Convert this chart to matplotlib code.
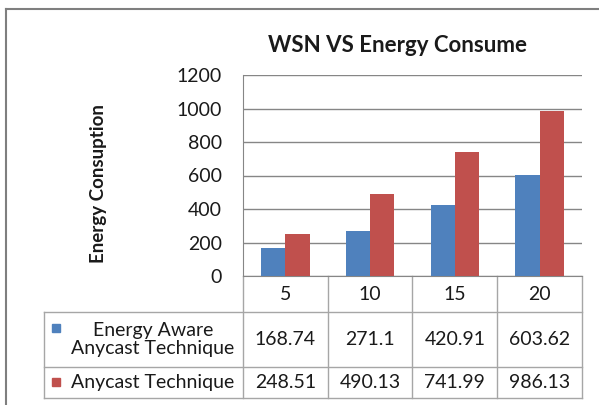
import numpy as np
import matplotlib.pyplot as plt
from matplotlib.transforms import blended_transform_factory

# data
categories = ["5", "10", "15", "20"]
series_names = ["Energy Aware\nAnycast Technique", "Anycast Technique"]
energy_aware = [168.74, 271.1, 420.91, 603.62]
anycast = [248.51, 490.13, 741.99, 986.13]
value_labels = [["168.74", "271.1", "420.91", "603.62"],
                ["248.51", "490.13", "741.99", "986.13"]]
colors = ["#4F81BD", "#C0504D"]

W, H = 599, 405
plt.rcParams['font.family'] = ['Lato', 'DejaVu Sans']
txt = "#1a1a1a"
fs = 14

fig = plt.figure(figsize=(W / 100, H / 100), dpi=100)

def fy(py):
    # pixel row (from top) -> figure fraction
    return (H - py) / H

def fx(px):
    return px / W

ax = fig.add_axes([fx(243), fy(276), fx(582) - fx(243), fy(75) - fy(276)])

x = np.arange(len(categories))
bw = 0.286
ax.bar(x - bw / 2, energy_aware, bw, color=colors[0], zorder=3)
ax.bar(x + bw / 2, anycast, bw, color=colors[1], zorder=3)

ax.set_xlim(-0.5, len(categories) - 0.5)
ax.set_ylim(0, 1200)
ax.set_yticks(range(0, 1201, 200))
ax.set_xticks([])
ax.yaxis.grid(True, color="#868686", linewidth=1.0, zorder=0)
ax.tick_params(axis="y", length=0, pad=15, labelsize=fs, labelcolor=txt)
for s in ["top", "right"]:
    ax.spines[s].set_visible(False)
ax.spines["left"].set_color("#868686")
ax.spines["bottom"].set_color("#868686")

fig.text(fx(98), fy(184), "Energy Consuption", rotation=90, ha="center",
         va="center", fontsize=13.5, fontweight="bold", color=txt)
fig.text(fx(398), fy(45), "WSN VS Energy Consume", ha="center", va="center",
         fontsize=16, fontweight="bold", color=txt)

# data table below the axes
tr = blended_transform_factory(ax.transData, fig.transFigure)
tf = fig.transFigure
lc = "#a6a6a6"
lw = 1.0
edges = np.arange(len(categories) + 1) - 0.5
y_cat, y_r1, y_r2, y_bot = 276, 312, 367, 398

for e in edges:
    ax.plot([e, e], [fy(y_cat), fy(y_bot)], transform=tr, color=lc,
            lw=lw, clip_on=False)
for py in [y_r1, y_r2, y_bot]:
    fig.add_artist(plt.Line2D([fx(44), fx(582)], [fy(py), fy(py)],
                              color=lc, lw=lw))
fig.add_artist(plt.Line2D([fx(44), fx(44)], [fy(y_r1), fy(y_bot)],
                          color=lc, lw=lw))

for i, c in enumerate(categories):
    ax.text(i, fy((y_cat + y_r1) / 2), c, transform=tr, ha="center",
            va="center", fontsize=fs, color=txt)

row_mid = [(y_r1 + y_r2) / 2, (y_r2 + y_bot) / 2]
for r in range(2):
    for i, v in enumerate(value_labels[r]):
        ax.text(i, fy(row_mid[r]), v, transform=tr, ha="center",
                va="center", fontsize=fs, color=txt)

# row labels with legend keys
fig.text(fx(153), fy(row_mid[0]), series_names[0], ha="center",
         va="center", fontsize=fs, color=txt, linespacing=1.05)
fig.text(fx(153), fy(row_mid[1]), series_names[1], ha="center",
         va="center", fontsize=fs, color=txt)
key_y = [328, 382]
for r in range(2):
    fig.add_artist(plt.Rectangle((fx(52), fy(key_y[r] + 4)), fx(8),
                                 8 / H, color=colors[r], transform=tf))

# outer frame (top and left edges visible)
fig.add_artist(plt.Line2D([fx(6), 1], [fy(9), fy(9)], color="#7f7f7f", lw=1.5))
fig.add_artist(plt.Line2D([fx(6), fx(6)], [fy(9), 0], color="#7f7f7f", lw=1.5))

fig.savefig("out.png", dpi=100)
